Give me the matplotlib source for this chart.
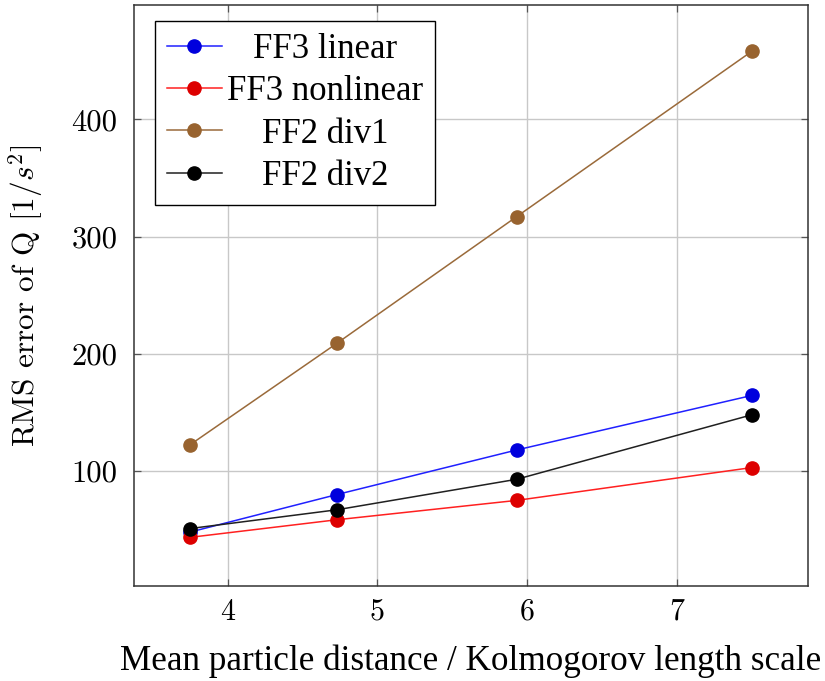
import matplotlib
matplotlib.use("Agg")
import matplotlib.pyplot as plt
from matplotlib.transforms import Affine2D

plt.rcParams["mathtext.fontset"] = "cm"
plt.rcParams["axes.formatter.use_mathtext"] = True

# Mean particle distance / Kolmogorov length scale
distance = [3.75, 4.73, 5.93, 7.5]

# RMS error of Q for each filter variant
ff3_linear = [48, 80, 118, 164.5]
ff3_nonlinear = [43.5, 58.5, 75, 103]
ff2_div1 = [122.5, 209, 317, 458]
ff2_div2 = [51, 67, 93, 148]

labels = ["FF3 linear", "FF3 nonlinear", "FF2 div1", "FF2 div2"]
x_ticks = [4, 5, 6, 7]
y_ticks = [100, 200, 300, 400]

serif = ["Liberation Serif", "DejaVu Serif"]
cm = ["cmr10", "DejaVu Serif"]

fig = plt.figure(figsize=(8.25, 6.81), dpi=100)
ax = fig.add_axes([0.1624, 0.1395, 0.8170, 0.8532])

series = [
    (ff3_linear, "#2020ff", "#0000dd"),
    (ff3_nonlinear, "#ff2020", "#dd0000"),
    (ff2_div1, "#9a6a3a", "#98632f"),
    (ff2_div2, "#202020", "#000000"),
]
for (vals, lc, mc), lab in zip(series, labels):
    ax.plot(distance, vals, color=lc, lw=1.1, marker="o", ms=9.5,
            markerfacecolor=mc, markeredgecolor=mc, label=lab, zorder=3)

ax.set_xlim(3.375, 7.875)
ax.set_ylim(2, 497.5)
ax.set_xticks(x_ticks)
ax.set_yticks(y_ticks)
ax.set_xticklabels([str(t) for t in x_ticks], fontfamily=cm, fontsize=21.5)
ax.set_yticklabels([str(t) for t in y_ticks], fontfamily=cm, fontsize=22)

ax.grid(True, color="#c8c8c8", lw=1.0, zorder=0)
ax.set_axisbelow(True)
ax.tick_params(direction="in", length=5, width=0.9, color="#555555",
               top=True, right=True, pad=12)
ax.tick_params(axis="x", pad=9)
for sp in ax.spines.values():
    sp.set_color("#333333")
    sp.set_linewidth(1.1)

ax.set_xlabel("Mean particle distance / Kolmogorov length scale",
              fontfamily=serif, fontsize=25.3, va="center")
ax.xaxis.set_label_coords(0.5, -0.129)
ax.set_ylabel(r"RMS error of Q $[1/s^2]$", fontfamily=cm, fontsize=22.5,
              va="center")
ax.yaxis.set_label_coords(-0.16, 0.5)

leg = ax.legend(loc="upper left", bbox_to_anchor=(0.031, 0.9725),
                borderaxespad=0, fancybox=False, framealpha=1,
                edgecolor="black", prop={"family": serif, "size": 25},
                handlelength=1.58, handletextpad=0.17, labelspacing=0.27,
                borderpad=0.34)
leg.get_frame().set_linewidth(1.0)

# centre each legend entry's text within the text column
fig.canvas.draw()
renderer = fig.canvas.get_renderer()
texts = leg.get_texts()
widths = [t.get_window_extent(renderer).width for t in texts]
wmax = max(widths)
for t, w in zip(texts, widths):
    t.set_transform(t.get_transform() + Affine2D().translate((wmax - w) / 2, 0))

fig.savefig("out.png", dpi=100)
